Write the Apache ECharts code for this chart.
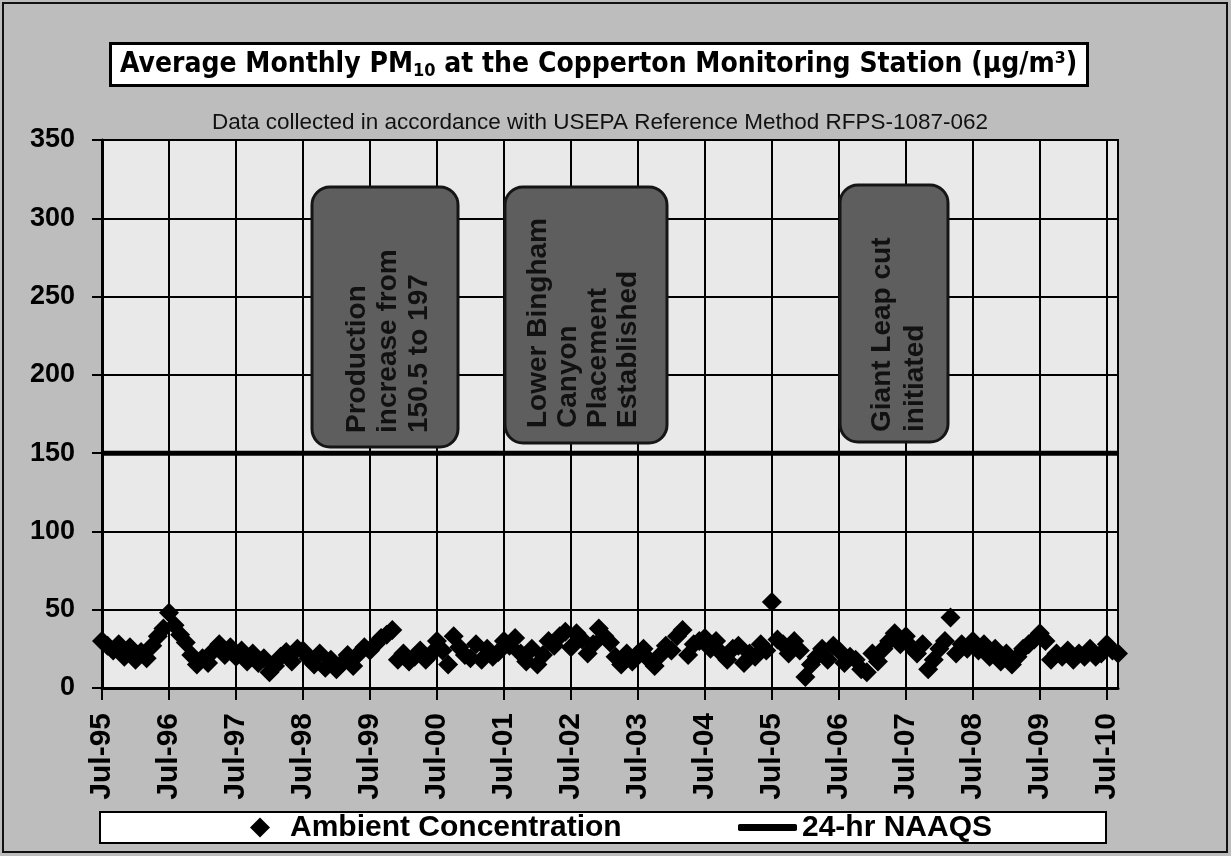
<!DOCTYPE html>
<html>
<head>
    <meta charset="utf-8">
    <title>Average Monthly PM10 - Copperton</title>
    <script src="https://cdn.jsdelivr.net/npm/echarts@6/dist/echarts.min.js"></script>
    <style>
        html, body { margin: 0; padding: 0; background: #bdbdbd; }
        #main { width: 1231px; height: 856px; }
    </style>
</head>
<body>
<div id="main"></div>
<script type="text/javascript">
// 月份标签 Jul-95 ... Sep-10
var monthNames = ['Jan','Feb','Mar','Apr','May','Jun','Jul','Aug','Sep','Oct','Nov','Dec'];
var startYear = 1995, startMonth = 6, monthCount = 183;

// monthly averages (ug/m3), Jul..Jun per line
var ambient = [
    30, 27, 24, 28, 20, 26, 18, 23, 19, 27, 33, 38,
    48, 40, 34, 29, 21, 15, 19, 16, 24, 28, 21, 26,
    20, 24, 17, 22, 16, 19, 10, 14, 20, 23, 17, 25,
    24, 19, 15, 22, 13, 18, 12, 16, 21, 14, 22, 26,
    24, 28, 32, 34, 37, 18, 22, 17, 20, 24, 18, 22,
    30, 24, 15, 33, 26, 21, 19, 28, 18, 25, 20, 23,
    30, 27, 32, 22, 17, 25, 15, 21, 30, 27, 33, 36,
    26, 35, 31, 22, 28, 38, 33, 29, 20, 15, 22, 17,
    22, 25, 18, 14, 21, 27, 24, 33, 37, 21, 28, 30,
    32, 25, 30, 22, 18, 25, 27, 16, 22, 20, 28, 24,
    55, 31, 28, 22, 30, 24,  7, 15, 20, 25, 18, 27,
    24, 16, 20, 18, 12, 10, 22, 17, 25, 30, 35, 28,
    33, 26, 22, 28, 12, 18, 25, 30, 45, 22, 28, 25,
    30, 24, 28, 20, 25, 17, 22, 15, 20, 25, 28, 31,
    35, 30, 18, 22, 20, 24, 18, 22, 20, 25, 20, 22,
    28, 24, 22
];
var naaqsLevel = 150;
var yTicks = { min: 0, max: 350, step: 50 };

var notes = [
    { text: 'Production\nincrease from\n150.5 to 197', box: [312, 187, 146, 260], x: 342, y: 433, lh: 31 },
    { text: 'Lower Bingham\nCanyon\nPlacement\nEstablished', box: [505, 187, 162, 256], x: 523, y: 428, lh: 30 },
    { text: 'Giant Leap cut\ninitiated', box: [840, 185, 108, 257], x: 866, y: 432, lh: 33 }
];

var FONT = "'Liberation Sans', Arial, sans-serif";
var NARROW = "'Liberation Sans Narrow', 'DejaVu Sans Condensed', sans-serif";

var categories = [];
for (var i = 0; i < monthCount; i++) {
    var m = (startMonth + i) % 12;
    var yr = startYear + Math.floor((startMonth + i) / 12);
    categories.push(monthNames[m] + '-' + String(yr % 100).padStart(2, '0'));
}
var naaqs = categories.map(function () { return naaqsLevel; });
function isJuly(idx) { return idx % 12 === 0; }

var graphics = [
    // 外框
    { type: 'rect', z: 100, shape: { x: 3, y: 3, width: 1224, height: 849 },
      style: { fill: 'none', stroke: '#111', lineWidth: 2 } },
    // 图例框
    { type: 'rect', z: 1, shape: { x: 100, y: 812, width: 1006, height: 31 },
      style: { fill: '#fff', stroke: '#000', lineWidth: 2 } },
    { type: 'text', z: 10, x: 600, y: 123,
      style: { text: 'Data collected in accordance with USEPA Reference Method RFPS-1087-062',
               align: 'center', verticalAlign: 'middle', textAlign: 'center', textVerticalAlign: 'middle',
               font: '22.5px ' + FONT, fill: '#111' } }
];
notes.forEach(function (n) {
    graphics.push({ type: 'rect', z: 50,
        shape: { x: n.box[0], y: n.box[1], width: n.box[2], height: n.box[3], r: 18 },
        style: { fill: '#5e5e5e', stroke: '#151515', lineWidth: 3 } });
    graphics.push({ type: 'text', z: 51, x: n.x, y: n.y, rotation: Math.PI / 2,
        style: { text: n.text, align: 'left', verticalAlign: 'top', textAlign: 'left', textVerticalAlign: 'top',
                 lineHeight: n.lh, font: 'bold 28px ' + FONT, fill: '#111' } });
});

var myChart = echarts.init(document.getElementById('main'));
myChart.setOption({
    animation: false,
    backgroundColor: '#bdbdbd',
    title: {
        text: '{a|Average Monthly PM}{s|10}{a| at the Copperton Monitoring Station (µg/m³)}',
        left: 110, top: 40,
        padding: [7, 10, 6, 10],
        backgroundColor: '#fff',
        borderColor: '#000',
        borderWidth: 3,
        textStyle: {
            rich: {
                a: { fontFamily: NARROW, fontWeight: 'bold', fontSize: 28, color: '#000', lineHeight: 36 },
                s: { fontFamily: NARROW, fontWeight: 'bold', fontSize: 18, color: '#000', lineHeight: 18, padding: [12, 0, 0, 0] }
            }
        }
    },
    legend: [{
        data: [{ name: 'Ambient Concentration', icon: 'diamond' }],
        left: 250, top: 812, padding: 0,
        itemWidth: 20, itemHeight: 20,
        textStyle: { fontFamily: FONT, fontWeight: 'bold', fontSize: 30, color: '#000', padding: [0, 0, 0, 15], lineHeight: 31 }
    }, {
        data: [{ name: '24-hr NAAQS', icon: 'roundRect' }],
        left: 738, top: 812, padding: 0,
        itemWidth: 59, itemHeight: 7,
        textStyle: { fontFamily: FONT, fontWeight: 'bold', fontSize: 30, color: '#000', lineHeight: 31 }
    }],
    grid: {
        left: 102, right: 113, top: 140, bottom: 168,
        show: true, backgroundColor: '#e9e9e9', borderColor: '#000', borderWidth: 2
    },
    xAxis: {
        type: 'category',
        data: categories,
        boundaryGap: false,
        axisLine: { lineStyle: { color: '#000', width: 3 } },
        axisTick: { show: true, interval: isJuly, length: 12, lineStyle: { color: '#000', width: 2 } },
        axisLabel: { interval: isJuly, rotate: 90, margin: 25, color: '#000',
                     fontFamily: FONT, fontWeight: 'bold', fontSize: 30 },
        splitLine: { show: true, interval: isJuly, lineStyle: { color: '#000', width: 2 } }
    },
    yAxis: {
        type: 'value',
        min: yTicks.min, max: yTicks.max, interval: yTicks.step,
        axisLine: { show: true, lineStyle: { color: '#000', width: 3 } },
        axisTick: { show: true, length: 10, lineStyle: { color: '#000', width: 2 } },
        axisLabel: { margin: 27, color: '#000', fontFamily: FONT, fontWeight: 'bold', fontSize: 27 },
        splitLine: { lineStyle: { color: '#000', width: 2 } }
    },
    series: [{
        name: '24-hr NAAQS',
        type: 'line',
        data: naaqs,
        symbol: 'none',
        z: 3,
        lineStyle: { color: '#000', width: 5 },
        itemStyle: { color: '#000' }
    }, {
        name: 'Ambient Concentration',
        type: 'scatter',
        data: ambient,
        symbol: 'diamond',
        symbolSize: 20,
        z: 4,
        itemStyle: { color: '#000', opacity: 1 }
    }],
    graphic: graphics
});
</script>
</body>
</html>
